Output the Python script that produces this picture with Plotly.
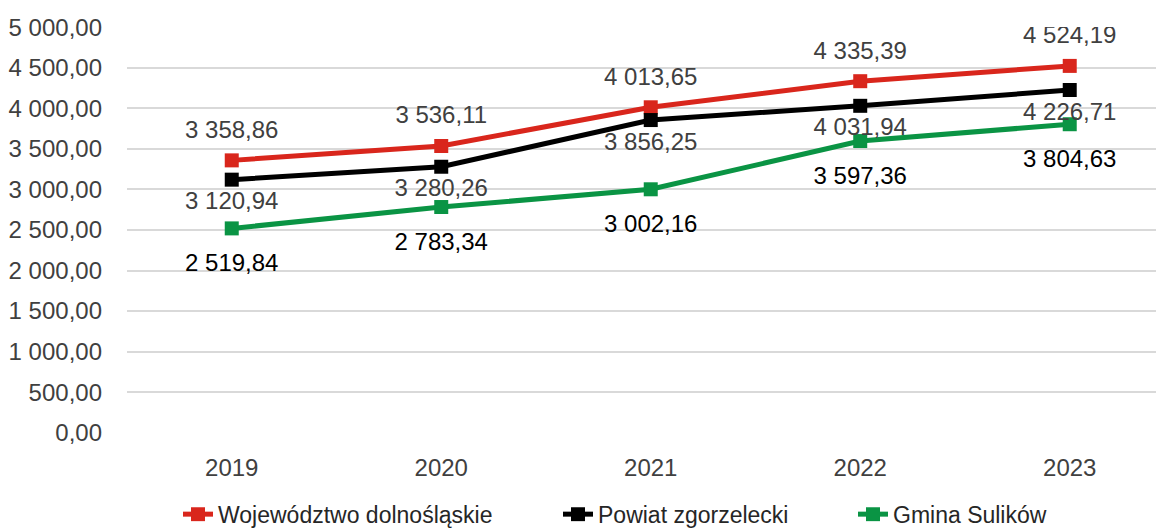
import plotly.graph_objects as go

years = ["2019", "2020", "2021", "2022", "2023"]
woj = [3358.86, 3536.11, 4013.65, 4335.39, 4524.19]
pow_ = [3120.94, 3280.26, 3856.25, 4031.94, 4226.71]
gmina = [2519.84, 2783.34, 3002.16, 3597.36, 3804.63]
names = ["Województwo dolnośląskie", "Powiat zgorzelecki", "Gmina Sulików"]
colors = ["#D9261C", "#000000", "#0A9444"]
y_ticks = [0, 500, 1000, 1500, 2000, 2500, 3000, 3500, 4000, 4500, 5000]

def fmt(v):
    s = f"{v:,.2f}"
    return s.replace(",", " ").replace(".", ",")

FONT = "Liberation Sans"
FS = 24
fig = go.Figure()
series = [woj, pow_, gmina]
legends = ["legend", "legend2", "legend3"]
for vals, name, col, lg in zip(series, names, colors, legends):
    fig.add_trace(go.Scatter(
        x=years, y=vals, name=name, mode="lines+markers",
        line=dict(color=col, width=5),
        marker=dict(symbol="square", size=14, color=col),
        legend=lg,
    ))

# data labels (text traces; invisible marker size sets the label offset)
label_pos = ["top center", "bottom center", "bottom center"]
label_gap = [25, 17, 38]
label_col = ["#404040", "#404040", "#000000"]
for k, vals in enumerate(series):
    fig.add_trace(go.Scatter(
        x=years, y=vals, mode="markers+text", showlegend=False,
        text=[fmt(v) for v in vals], textposition=label_pos[k],
        marker=dict(size=label_gap[k], color="rgba(0,0,0,0)"),
        textfont=dict(family=FONT, size=FS, color=label_col[k]),
        hoverinfo="skip",
    ))

def leg(xpx):
    return dict(orientation="h", x=xpx / 1156, xanchor="left", xref="container",
                y=-0.2, yanchor="middle", yref="paper",
                font=dict(family=FONT, size=23, color="#262626"),
                bgcolor="rgba(0,0,0,0)")

fig.update_layout(
    width=1156, height=520,
    margin=dict(l=119, r=0, t=19, b=95, autoexpand=False),
    plot_bgcolor="white", paper_bgcolor="white",
    font=dict(family=FONT, size=FS, color="#404040"),
    showlegend=True,
    legend=leg(212 - 42), legend2=leg(592 - 42), legend3=leg(887 - 42),
    xaxis=dict(range=[-0.5, 4.45], showgrid=False, showline=False,
               zeroline=False, ticks="", ticklabelstandoff=18,
               tickfont=dict(size=FS, color="#404040")),
    yaxis=dict(range=[-4, 5004], tickvals=y_ticks,
               ticktext=[fmt(v) for v in y_ticks],
               showgrid=True, gridcolor="#D9D9D9", gridwidth=1.5,
               zeroline=False, showline=False, ticks="",
               ticklabelstandoff=24,
               tickfont=dict(size=FS, color="#404040")),
)
fig.write_html("out.html")
